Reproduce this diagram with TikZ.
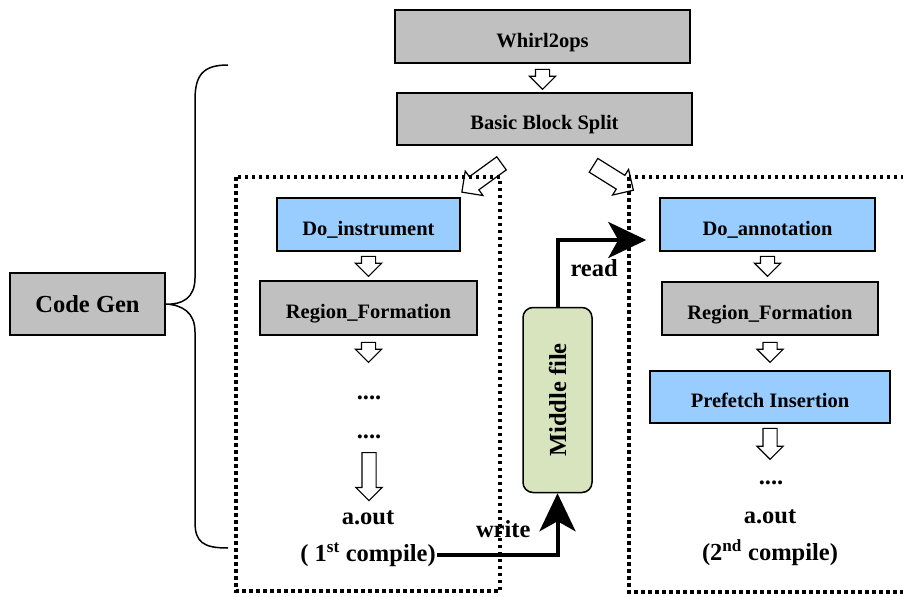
\documentclass[tikz,border=0pt]{standalone}
\usepackage{fontspec}
\setmainfont{Liberation Serif}
\usetikzlibrary{shapes.arrows,arrows.meta}
\definecolor{boxgray}{HTML}{C0C0C0}
\definecolor{boxblue}{HTML}{99CCFF}
\definecolor{boxgreen}{HTML}{D7E4BD}
\tikzset{
  stage/.style={draw,line width=1.5pt,rectangle,inner sep=0pt,minimum height=53pt,
    text height=21pt,text depth=0pt,font=\fontsize{20.5}{24}\selectfont\bfseries},
  graystage/.style={stage,fill=boxgray},
  bluestage/.style={stage,fill=boxblue},
  label/.style={inner sep=1pt,font=\fontsize{24.5}{28}\selectfont\bfseries},
  harrow/.style={draw,line width=1.2pt,fill=white,single arrow,inner xsep=0pt,inner ysep=6.5pt,
    minimum width=0pt,single arrow head extend=6pt,anchor=tail},
  phase/.style={line width=3.5pt,dash pattern=on 3.5pt off 3.5pt},
  flow/.style={line width=4pt,-{Stealth[length=38pt,width=36pt,inset=10pt]}}
}
\begin{document}
\begin{tikzpicture}[x=1pt,y=-1pt]
    \useasboundingbox (0,0) rectangle (903,597);
    \clip (0,0) rectangle (903,597);
    %% Common stages
    \node[graystage,minimum width=295pt] (whirl) at (542.5,36.5) {Whirl2ops};
    \node[graystage,minimum width=295pt,minimum height=52pt] (split) at (544.5,119) {Basic Block Split};
    \node[graystage,minimum width=155pt,minimum height=62pt,text height=17pt,
      font=\fontsize{24.5}{28}\selectfont\bfseries] (codegen) at (87.5,304) {Code Gen};
    %% First compile
    \node[bluestage,minimum width=183pt] (instr) at (368.5,224.5) {Do\_instrument};
    \node[graystage,minimum width=217pt,minimum height=54pt] (regionA) at (368.5,308) {Region\_Formation};
    \node[label] (dotsA) at (369,398) {....};
    \node[label] (dotsB) at (369,437) {....};
    \node[label] (outA) at (368,518) {a.out};
    \node[label] (compA) at (368,555) {( 1\textsuperscript{st} compile)};
    %% Second compile
    \node[bluestage,minimum width=215pt] (annot) at (767.5,224.5) {Do\_annotation};
    \node[graystage,minimum width=216pt] (regionB) at (770,308.5) {Region\_Formation};
    \node[bluestage,minimum width=240pt,minimum height=52pt] (prefetch) at (770,397) {Prefetch Insertion};
    \node[label] (dotsC) at (771,483) {....};
    \node[label] (outB) at (770,517) {a.out};
    \node[label] (compB) at (770,553) {(2\textsuperscript{nd} compile)};
    %% Middle file
    \node[draw,line width=1.5pt,fill=boxgreen,rounded corners=10pt,minimum width=69pt,minimum height=185pt] (middle) at (557.5,400) {};
    \node[label,rotate=90] (midtext) at (middle.center) {Middle file};
    %% Hollow arrows
    \node[harrow,rotate=-90,minimum height=20pt] at ([yshift=-5pt]whirl.south) {};
    \node[harrow,rotate=-90,minimum height=20pt] at ([yshift=-4pt]instr.south) {};
    \node[harrow,rotate=-90,minimum height=20pt] at ([yshift=-6pt]regionA.south) {};
    \node[harrow,rotate=-90,minimum height=48pt] at (369,452) {};
    \node[harrow,rotate=-90,minimum height=20pt] at ([yshift=-4pt]annot.south) {};
    \node[harrow,rotate=-90,minimum height=20pt] at ([yshift=-6pt]regionB.south) {};
    \node[harrow,rotate=-90,minimum height=31pt] at ([yshift=-4pt]prefetch.south) {};
    \node[harrow,rotate=216,minimum height=49pt,inner ysep=7.5pt,single arrow head extend=7pt] at (502,163) {};
    \node[harrow,rotate=328,minimum height=47pt,inner ysep=7.5pt,single arrow head extend=7pt] at (593,165) {};
    %% Phase frames
    \draw[phase] (236,177) rectangle (500,591);
    \draw[phase] (629,177) rectangle (915,592);
    %% Brace
    \draw[line width=1.5pt] (228,65) .. controls (203,65) and (195,75) .. (195,100) -- (195,278)
        .. controls (195,298) and (182,305) .. (codegen.east)
        .. controls (182,305) and (195,312) .. (195,332) -- (195,522)
        .. controls (195,542) and (203,548) .. (228,548);
    %% Read and write
    \draw[flow] (compA.east) -| (middle.south) node[pos=0.275,label,anchor=south,yshift=14pt] {write};
    \draw[flow] (middle.north) |- ([xshift=-13pt,yshift=-15.5pt]annot.west) node[pos=0.29,label,anchor=west,xshift=10pt] {read};
\end{tikzpicture}
\end{document}
